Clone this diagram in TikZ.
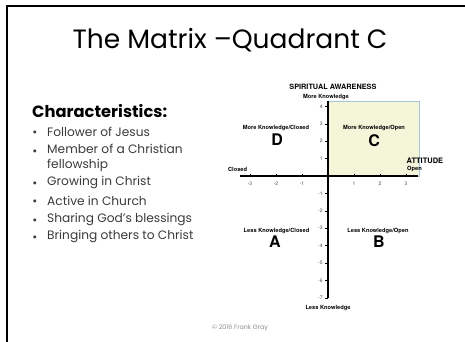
\documentclass[tikz,border=0pt]{standalone}
\usepackage{fontspec}
\setmainfont{Poppins}
\newfontfamily\axisfont{TeX Gyre Heros}
\usetikzlibrary{positioning}
\definecolor{quadfill}{HTML}{F5F5DA}
\definecolor{quadedge}{HTML}{A8C3DA}
\definecolor{bodytext}{HTML}{3A3A3A}
\definecolor{notegray}{HTML}{8C8C8C}

\begin{document}
\begin{tikzpicture}[x=1pt, y=-1pt,
        ttl/.style={font=\fontsize{26.5}{30}\selectfont, text=black, inner sep=0pt},
        head/.style={font=\bfseries\fontsize{16.3}{18}\selectfont, anchor=west, inner sep=0pt},
        item/.style={font=\fontsize{12.2}{14.5}\selectfont, text=bodytext, anchor=west, align=left, inner sep=0pt},
        dot/.style={font=\fontsize{12.2}{14.5}\selectfont, text=bodytext, inner sep=0pt},
        lbl/.style={font=\axisfont\bfseries\fontsize{5.7}{6}\selectfont, inner sep=0pt},
        big/.style={font=\axisfont\bfseries\fontsize{16}{16}\selectfont, inner sep=0pt},
        num/.style={font=\axisfont\fontsize{5}{6}\selectfont, text=black!70, inner sep=0pt},
        axis/.style={line width=1.8pt, black}
    ]
    \useasboundingbox (0,0) rectangle (465,342);
    % slide frame
    \draw[line width=1.5pt] (7,342) -- (7,6) -- (465,6);
    \node[ttl] (title) at (230,40) {The Matrix --Quadrant C};
    % left column: characteristics
    \node[head] (char) at (32,111) {Characteristics:};
    \node[item] (i1) at (47,132) {Follower of Jesus};
    \node[item] (i2) at (47,158) {Member of a Christian\\fellowship};
    \node[item] (i3) at (47,183) {Growing in Christ};
    \node[item] (i4) at (47,201) {Active in Church};
    \node[item] (i5) at (47,220) {Sharing God’s blessings};
    \node[item] (i6) at (47,237) {Bringing others to Christ};
    \node[dot] (d1) at (35,133.5) {\textbullet};
    \node[dot] (d2) at (35,152.5) {\textbullet};
    \node[dot] (d3) at (35,184.5) {\textbullet};
    \node[dot] (d4) at (35,202.5) {\textbullet};
    \node[dot] (d5) at (35,221.5) {\textbullet};
    \node[dot] (d6) at (35,238.5) {\textbullet};
    % right column: the matrix
    \begin{scope}[shift={(328,176)}, x=26pt, y=17.4pt]
        \filldraw[fill=quadfill, draw=quadedge, line width=0.6pt] (0,0) rectangle (3.5,4.3);
        \draw[axis] (-3.4,0) -- (3.45,0);
        \draw[axis] (0,4.3) -- (0,-7);
        \foreach \v in {-3,-2,-1,1,2,3}
            \draw[line width=0.3pt] (\v,0) -- (\v,0.12);
        \foreach \v in {-3,-2,-1,1,2,3}
            \node[num] at (\v,-0.46) {\v};
        \foreach \v in {-7,-6,-5,-4,-3,-2,-1,1,2,3,4}
            \draw[line width=0.3pt] (0,\v) -- (-0.1,\v);
        \foreach \v in {-7,-6,-5,-4,-3,-2,-1,1,2,3,4}
            \node[num, anchor=east] at (-0.2,\v) {\v};
        \node[lbl, font=\axisfont\bfseries\fontsize{7.3}{8}\selectfont] (spirit) at (0.19,5.11) {SPIRITUAL AWARENESS};
        \node[lbl] (more) at (-0.08,4.54) {More Knowledge};
        \node[lbl] (less) at (0,-7.59) {Less Knowledge};
        \node[lbl, font=\axisfont\bfseries\fontsize{7.5}{8}\selectfont] (att) at (3.73,0.86) {ATTITUDE};
        \node[lbl, anchor=west] (open) at (3.04,0.40) {Open};
        \node[lbl, anchor=west] (closed) at (-3.85,0.40) {Closed};
        \node[lbl] (qd) at (-2.0,2.76) {More Knowledge/Closed};
        \node[big] (lD) at (-1.96,2.1) {D};
        \node[lbl] (qc) at (1.77,2.76) {More Knowledge/Open};
        \node[big] (lC) at (1.77,2.05) {C};
        \node[lbl] (qa) at (-1.98,-3.16) {Less Knowledge/Closed};
        \node[big] (lA) at (-2.04,-3.8) {A};
        \node[lbl] (qb) at (1.92,-3.16) {Less Knowledge/Open};
        \node[big] (lB) at (1.96,-3.8) {B};
    \end{scope}
    \node[font=\fontsize{6.3}{7}\selectfont, text=notegray] (copy) at (240,328) {© 2016 Frank Gray};
\end{tikzpicture}
\end{document}
